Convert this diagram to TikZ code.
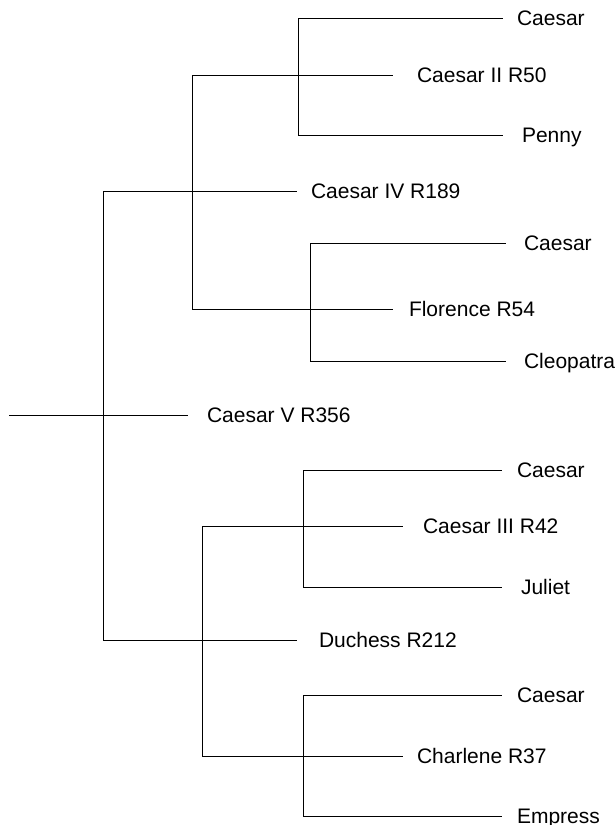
\documentclass[tikz,border=0pt]{standalone}
\usepackage{fontspec}
\setmainfont{Liberation Sans}
\usetikzlibrary{positioning}
\tikzset{
  branch/.style={line width=1pt,black,line cap=rect},
  animal/.style={inner sep=0,outer sep=0,anchor=west,text height=15pt,text depth=0pt,
    font=\fontsize{21}{25}\selectfont}
}

\begin{document}
\begin{tikzpicture}[x=1pt,y=-1pt]
	\useasboundingbox (0,0) rectangle (615,825);

	% one row per animal: name / line start / line end / y / gap / label
	\foreach \n/\xa/\xb/\y/\gap/\txt in {
			cfive/9/187/415/20pt/{Caesar V R356},
			cfour/103/296/191/15pt/{Caesar IV R189},
			duch/103/296/640/23pt/{Duchess R212},
			ctwo/192/392/75/25pt/{Caesar II R50},
			flor/192/392/309/17pt/{Florence R54},
			cthree/202/402/526/21pt/{Caesar III R42},
			charl/202/402/756/15pt/{Charlene R37},
			ca/298/502/18/15pt/{Caesar},
			penny/298/502/135/20pt/{Penny},
			cb/310/505/243/19pt/{Caesar},
			cleo/310/505/361/19pt/{Cleopatra},
			cc/303/501/470/16pt/{Caesar},
			juliet/303/501/587/20pt/{Juliet},
			cd/303/501/695/16pt/{Caesar},
			empress/303/501/816/16pt/{Empress}}{
			\coordinate (\n-s) at (\xa,\y);
			\coordinate (\n-e) at (\xb,\y);
			\node[animal, right=\gap of \n-e] (\n) {\txt};
			\draw[branch] (\n-s) -- (\n-e);
		}

	% sire and dam of each animal
	\draw[branch] (cfour-s) -- (duch-s);
	\draw[branch] (ctwo-s) -- (flor-s);
	\draw[branch] (cthree-s) -- (charl-s);
	\draw[branch] (ca-s) -- (penny-s);
	\draw[branch] (cb-s) -- (cleo-s);
	\draw[branch] (cc-s) -- (juliet-s);
	\draw[branch] (cd-s) -- (empress-s);
\end{tikzpicture}
\end{document}
